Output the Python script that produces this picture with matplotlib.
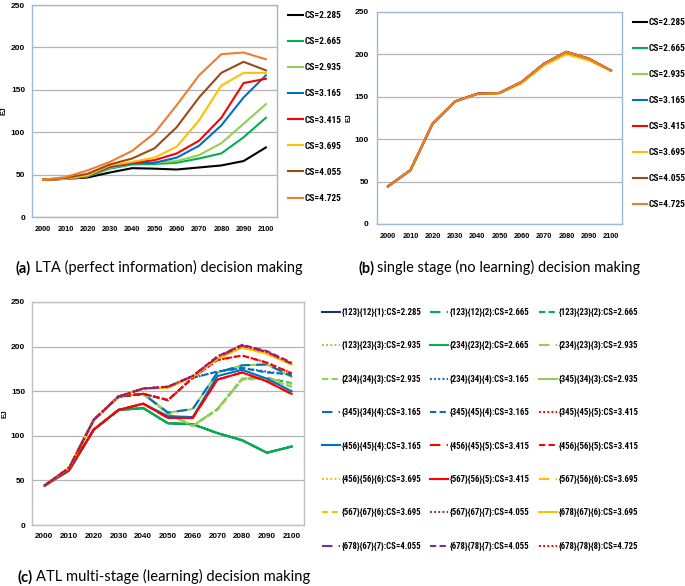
import matplotlib
matplotlib.use('Agg')
import matplotlib.pyplot as plt
from matplotlib import font_manager as fm
from matplotlib.textpath import TextPath

# ---------------- data ----------------
years = ['2000', '2010', '2020', '2030', '2040', '2050', '2060', '2070', '2080', '2090', '2100']
cs_labels = ['CS=2.285', 'CS=2.665', 'CS=2.935', 'CS=3.165', 'CS=3.415', 'CS=3.695', 'CS=4.055', 'CS=4.725']

# (a) LTA perfect information
lta_2285 = [44, 45, 46.6, 52.5, 57.6, 57, 56, 58.4, 60.8, 66, 82]
lta_2665 = [44, 45, 48, 57, 62, 62.5, 64, 69, 75, 94, 117]
lta_2935 = [44, 45, 48, 58, 63, 64, 66, 73, 87, 110, 133]
lta_3165 = [44, 45, 48, 59, 63, 64, 70, 84, 108, 141, 167]
lta_3415 = [44, 45, 49, 60, 64, 67, 75, 90, 117, 158, 163]
lta_3695 = [44, 45, 49, 61, 65, 70, 83, 114, 155, 170, 170]
lta_4055 = [44, 46, 51, 62, 69, 81, 106, 141, 170, 183, 173]
lta_4725 = [44, 47, 55, 65, 78, 99, 132, 167, 192, 194, 186]

# (b) single stage (no learning)
single_2285 = [44.5, 63.5, 118.5, 144.5, 153.5, 154.5, 167.5, 189, 203, 195, 181]
single_2665 = [44.5, 63.5, 118.5, 144.5, 153.5, 154.5, 167.5, 189, 203, 195, 181]
single_2935 = [44.5, 63.5, 118.5, 144.5, 153.5, 154.5, 167.5, 189, 203, 195, 181]
single_3165 = [44.5, 63.5, 118.5, 144.5, 153.5, 154.5, 167.5, 189, 203, 195, 181]
single_3415 = [44.5, 63.5, 118.5, 144.5, 153.5, 154.5, 167.5, 189, 203, 195, 181]
single_3695 = [44.5, 63.5, 118.5, 144.5, 153, 154, 166, 187, 200, 193, 180.5]
single_4055 = [44.5, 63.5, 118.5, 144.5, 153.5, 154.5, 167.5, 189, 203, 195, 181]
single_4725 = [44.5, 63.5, 118.5, 144.5, 153.5, 154.5, 167.5, 189, 203, 195, 181]

# (c) ATL multi-stage (learning)
atl_labels = ['{123}{12}{1}:CS=2.285', '{123}{12}{2}:CS=2.665', '{123}{23}{2}:CS=2.665',
              '{123}{23}{3}:CS=2.935', '{234}{23}{2}:CS=2.665', '{234}{23}{3}:CS=2.935',
              '{234}{34}{3}:CS=2.935', '{234}{34}{4}:CS=3.165', '{345}{34}{3}:CS=2.935',
              '{345}{34}{4}:CS=3.165', '{345}{45}{4}:CS=3.165', '{345}{45}{5}:CS=3.415',
              '{456}{45}{4}:CS=3.165', '{456}{45}{5}:CS=3.415', '{456}{56}{5}:CS=3.415',
              '{456}{56}{6}:CS=3.695', '{567}{56}{5}:CS=3.415', '{567}{56}{6}:CS=3.695',
              '{567}{67}{6}:CS=3.695', '{567}{67}{7}:CS=4.055', '{678}{67}{6}:CS=3.695',
              '{678}{67}{7}:CS=4.055', '{678}{78}{7}:CS=4.055', '{678}{78}{8}:CS=4.725']
atl_01 = [44, 61, 107, 129, 131, 114, 113, 103, 95, 81, 88]
atl_02 = [44, 61, 107, 129, 131, 114, 113, 103, 95, 81, 88]
atl_03 = [44, 64, 118, 144, 147, 125, 111, 130, 164, 165, 159]
atl_04 = [44, 64, 118, 144, 147, 125, 111, 130, 164, 164, 155]
atl_05 = [44, 61, 107, 129, 131, 114, 113, 103, 95, 81, 88]
atl_06 = [44, 64, 118, 144, 147, 125, 111, 130, 164, 165, 158]
atl_07 = [44, 64, 118, 144, 147, 125, 111, 129, 163, 164, 155]
atl_08 = [44, 64, 118, 144, 147, 140, 165, 172, 176, 172, 168]
atl_09 = [44, 64, 118, 144, 147, 126, 130, 171, 179, 180, 166]
atl_10 = [44, 64, 118, 144, 147, 126, 130, 171, 179, 180, 167]
atl_11 = [44, 64, 118, 144, 147, 140, 165, 172, 176, 171, 169]
atl_12 = [44, 64, 118, 144, 147, 140, 165, 185, 190, 182, 170]
atl_13 = [44, 62, 107, 129, 136, 122, 121, 167, 174, 164, 150]
atl_14 = [44, 62, 107, 129, 136, 120, 120, 163, 171, 161, 147]
atl_15 = [44, 64, 118, 144, 147, 140, 165, 185, 190, 182, 170]
atl_16 = [44, 64, 118, 144, 153, 154, 166, 186, 199, 192, 180]
atl_17 = [44, 62, 107, 129, 136, 120, 120, 163, 171, 161, 147]
atl_18 = [44, 64, 118, 144, 153, 154, 166, 186, 199, 192, 180]
atl_19 = [44, 64, 118, 144, 153, 154, 167, 187, 200, 193, 181]
atl_20 = [44, 64, 118, 144, 153, 155, 167, 188, 202, 194, 181]
atl_21 = [44, 64, 118, 144, 153, 154, 166, 187, 199, 192, 180]
atl_22 = [44, 64, 118, 144, 153, 155, 167, 188, 201, 194, 181]
atl_23 = [44, 64, 118, 144, 153, 155, 167, 189, 202, 195, 182]
atl_24 = [44, 64, 118, 144, 153, 155, 167, 189, 201, 194, 181]

# ---------------- styles ----------------
ab_colors = ['#000000', '#00B050', '#92D050', '#0070C0', '#FF0000', '#FFC000', '#9C4A1A', '#ED7D31']
c_col = {'navy': '#1F2F6B', 'green': '#00B050', 'lgreen': '#92D050', 'blue': '#0070C0',
         'red': '#FF0000', 'yellow': '#FFC000', 'purple': '#7030A0'}
atl_colors = ['navy', 'green', 'green', 'lgreen', 'green', 'lgreen', 'lgreen', 'blue',
              'lgreen', 'blue', 'blue', 'red', 'blue', 'red', 'red', 'yellow',
              'red', 'yellow', 'yellow', 'purple', 'yellow', 'purple', 'purple', 'red']
dash_cycle = ['-', (0, (5, 3)), (0, (3, 1.6)), (0, (0.9, 1.1))]

W, H = 685, 586
DPI = 100
fig = plt.figure(figsize=(W / DPI, H / DPI), dpi=DPI)

available = {f.name for f in fm.fontManager.ttflist}
LEGFONT = 'Liberation Sans'
for cand in ['Liberation Sans Narrow', 'Arial Narrow', 'Roboto Condensed', 'DejaVu Sans Condensed']:
    if cand in available:
        LEGFONT = cand
        break
TICKFONT = ['Liberation Sans', 'DejaVu Sans']
CAPFONT = ['Lato', 'DejaVu Sans']


def fit_size(text, family, weight, target_px, base=10.0):
    fp = fm.FontProperties(family=family, weight=weight, size=base)
    w = TextPath((0, 0), text, prop=fp).get_extents().width
    return base * target_px / (w * DPI / 72.0)


def axrect(l, t, r, b):
    return [l / W, 1 - b / H, (r - l) / W, (b - t) / H]


def style(ax, spine_color, xpad, ypad, ylab_x, xsize):
    ax.set_xlim(-0.5, 10.5)
    ax.set_ylim(0, 250)
    ax.set_yticks(range(0, 251, 50))
    ax.set_xticks(range(len(years)))
    ax.set_xticklabels(years)
    ax.grid(axis='y', color='#B4B4B4', lw=0.9)
    ax.set_axisbelow(True)
    for s in ax.spines.values():
        s.set_color(spine_color)
        s.set_linewidth(1)
    ax.tick_params(axis='x', length=0, pad=xpad)
    ax.tick_params(axis='y', length=0, pad=ypad)
    for lbl in ax.get_xticklabels():
        lbl.set_fontfamily(TICKFONT)
        lbl.set_fontweight('bold')
        lbl.set_fontsize(xsize)
    for lbl in ax.get_yticklabels():
        lbl.set_fontfamily(TICKFONT)
        lbl.set_fontweight('bold')
        lbl.set_fontsize(6)
    ax.set_ylabel('EJ', fontsize=5, fontweight='bold', family=TICKFONT)
    ax.yaxis.set_label_coords(ylab_x, 0.5)


x = list(range(len(years)))

# ---- (a)
axA = fig.add_axes(axrect(32, 5, 277, 217))
style(axA, '#9CB8DA', 6.5, 5, -0.098, 5.3)
lta = [lta_2285, lta_2665, lta_2935, lta_3165, lta_3415, lta_3695, lta_4055, lta_4725]
hA = []
for vals, col, lab in zip(lta, ab_colors, cs_labels):
    h, = axA.plot(x, vals, color=col, lw=1.5, label=lab)
    hA.append(h)

# ---- (b)
axB = fig.add_axes(axrect(377, 12, 622, 224))
style(axB, '#9CB8DA', 6.5, 6, -0.098, 5.3)
single = [single_2285, single_2665, single_2935, single_3165, single_3415, single_3695, single_4055, single_4725]
hB = []
for vals, col, lab in zip(single, ab_colors, cs_labels):
    h, = axB.plot(x, vals, color=col, lw=1.5, label=lab)
    hB.append(h)

# ---- (c)
axC = fig.add_axes(axrect(32, 302, 304, 525))
style(axC, '#BFBFBF', 5.5, 5, -0.088, 5.8)
atl = [atl_01, atl_02, atl_03, atl_04, atl_05, atl_06, atl_07, atl_08, atl_09, atl_10, atl_11, atl_12,
       atl_13, atl_14, atl_15, atl_16, atl_17, atl_18, atl_19, atl_20, atl_21, atl_22, atl_23, atl_24]
hC = []
for i, (vals, cname, lab) in enumerate(zip(atl, atl_colors, atl_labels)):
    h, = axC.plot(x, vals, color=c_col[cname], lw=1.5, linestyle=dash_cycle[i % 4], label=lab)
    hC.append(h)

# ---------------- legends ----------------
def make_legend(handles, labels, left, first_center, row_step, line_px, text_w_px, ncol=1, col_stride=None):
    fs = min(fit_size(labels[0], LEGFONT, 'bold', text_w_px), 7.0)
    fs_px = fs * DPI / 72.0
    row_h = 1.0 * fs_px
    kw = dict(loc='upper left', bbox_to_anchor=(left / W, 1 - (first_center - row_h / 2) / H),
              frameon=False, prop=dict(family=LEGFONT, weight='bold', size=fs),
              handlelength=line_px / fs_px, handletextpad=1.5 / fs_px,
              labelspacing=row_step / fs_px - 1.0, borderpad=0, borderaxespad=0, ncol=ncol)
    if col_stride is not None:
        kw['columnspacing'] = (col_stride - line_px - 1.5 - text_w_px) / fs_px
    return fig.legend(handles, labels, **kw)


make_legend(hA, cs_labels, 288, 15.7, 26.5, 15, 36)
make_legend(hB, cs_labels, 633, 22.7, 26.4, 14, 36)
order = [i for c in range(3) for i in range(c, 24, 3)]
make_legend([hC[i] for i in order], [atl_labels[i] for i in order], 322, 312.3, 33.1, 18, 79,
            ncol=3, col_stride=107.5)

# ---------------- captions ----------------
def caption(xp, yp, tag, rest, size=10.45):
    t = fig.text(xp / W, 1 - yp / H, tag, fontsize=size, fontweight='bold', family=CAPFONT,
                 va='center', ha='left')
    axA.annotate(rest, xy=(1, 0), xycoords=t, xytext=(2.5, 0), textcoords='offset points',
                 va='bottom', ha='left', fontsize=size, family=CAPFONT, annotation_clip=False)


caption(16, 268, '(a)', 'LTA (perfect information) decision making')
caption(358, 268, '(b)', 'single stage (no learning) decision making')
caption(17, 577, '(c)', 'ATL multi-stage (learning) decision making', size=10.6)

fig.savefig('out.png', dpi=DPI)
